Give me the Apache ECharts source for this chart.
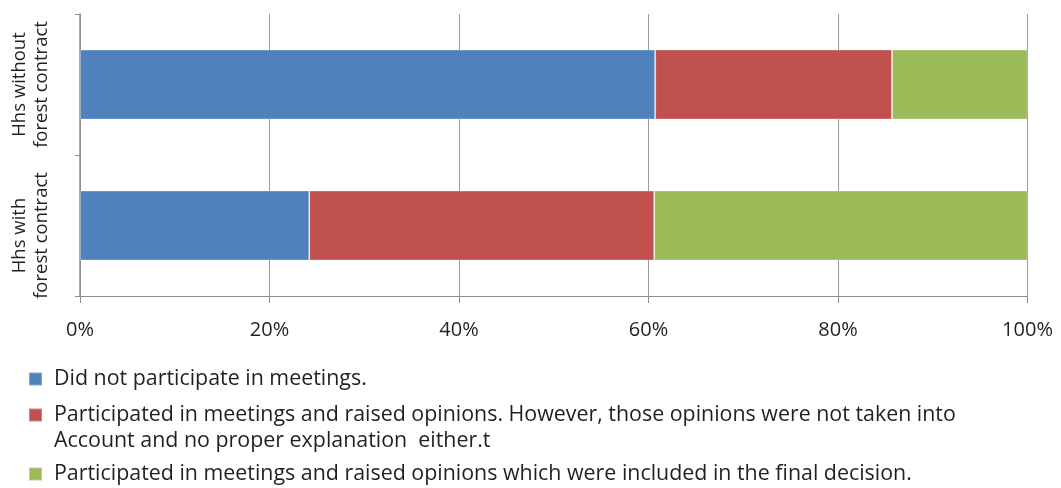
<!DOCTYPE html>
<html>
<head>
<meta charset="utf-8">
<script src="https://cdn.jsdelivr.net/npm/echarts@6/dist/echarts.min.js"></script>
<style>
html,body{margin:0;padding:0;background:#fff;}
#chart{width:1061px;height:488px;}
</style>
</head>
<body>
<div id="chart"></div>
<script>
// Data (percent of households)
const categories = ['Hhs with\nforest contract', 'Hhs without\nforest contract'];
const seriesNames = [
  'Did not participate in meetings.',
  'Participated in meetings and raised opinions. However, those opinions were not taken into',
  'Participated in meetings and raised opinions which were included in the final decision.'
];
const legendSecondLine = 'Account and no proper explanation  either.t';
const notParticipated = [24.2, 60.7];
const participatedNotConsidered = [36.4, 25.0];
const participatedIncluded = [39.4, 14.3];
const xTickValues = [0, 20, 40, 60, 80, 100];

const colors = ['#4F81BD', '#C0504D', '#9BBB59'];
const FONT = 'Open Sans';
const values = [notParticipated, participatedNotConsidered, participatedIncluded];

const chart = echarts.init(document.getElementById('chart'), null, {renderer: 'canvas'});
const legendCenters = [379, 415, 474];
const LEG_FS = 21.4;
const option = {
  animation: false,
  textStyle: {fontFamily: FONT},
  grid: {left: 80, right: 33.5, top: 14, bottom: 192, containLabel: false},
  xAxis: {
    type: 'value', min: 0, max: 100, interval: 20,
    axisLine: {show: true, lineStyle: {color: '#8c8c8c', width: 1}},
    axisTick: {show: true, length: 7, lineStyle: {color: '#8c8c8c'}},
    splitLine: {show: true, lineStyle: {color: '#9a9a9a', width: 1}},
    axisLabel: {
      formatter: v => xTickValues.includes(v) ? v + '%' : '',
      fontSize: 20, color: '#231F20', margin: 24, fontFamily: FONT
    }
  },
  yAxis: {
    type: 'category',
    data: [
      {value: categories[0], textStyle: {padding: [0, 20, 0, 0]}},
      {value: categories[1]}
    ],
    axisLine: {show: true, lineStyle: {color: '#8c8c8c', width: 1.5}},
    axisTick: {show: true, length: 5, lineStyle: {color: '#8c8c8c'}},
    splitLine: {show: false},
    axisLabel: {
      interval: 0, hideOverlap: false,
      rotate: 90, fontSize: 18.5, lineHeight: 22, color: '#231F20',
      margin: 27, fontFamily: FONT, align: 'center'
    }
  },
  legend: seriesNames.map((n, i) => ({
    data: [n], orient: 'vertical', left: 23, top: legendCenters[i] - 13 - 5,
    itemWidth: 13, itemHeight: 13, itemGap: 10,
    icon: 'rect',
    textStyle: {fontSize: LEG_FS, lineHeight: 26, color: '#231F20', fontFamily: FONT, padding: [0, 0, 0, 7]},
    selectedMode: false
  })),
  graphic: [{
    type: 'text', left: 54, top: 441 - 13,
    style: {text: legendSecondLine, fontSize: LEG_FS, lineHeight: 26, fill: '#231F20', fontFamily: FONT}
  }],
  series: seriesNames.map((n, i) => ({
    name: n, type: 'bar', stack: 'total',
    data: values[i],
    barWidth: '49.6%',
    itemStyle: {color: colors[i], borderColor: 'rgba(255,255,255,0.3)', borderWidth: 1}
  }))
};
chart.setOption(option);
</script>
</body>
</html>
